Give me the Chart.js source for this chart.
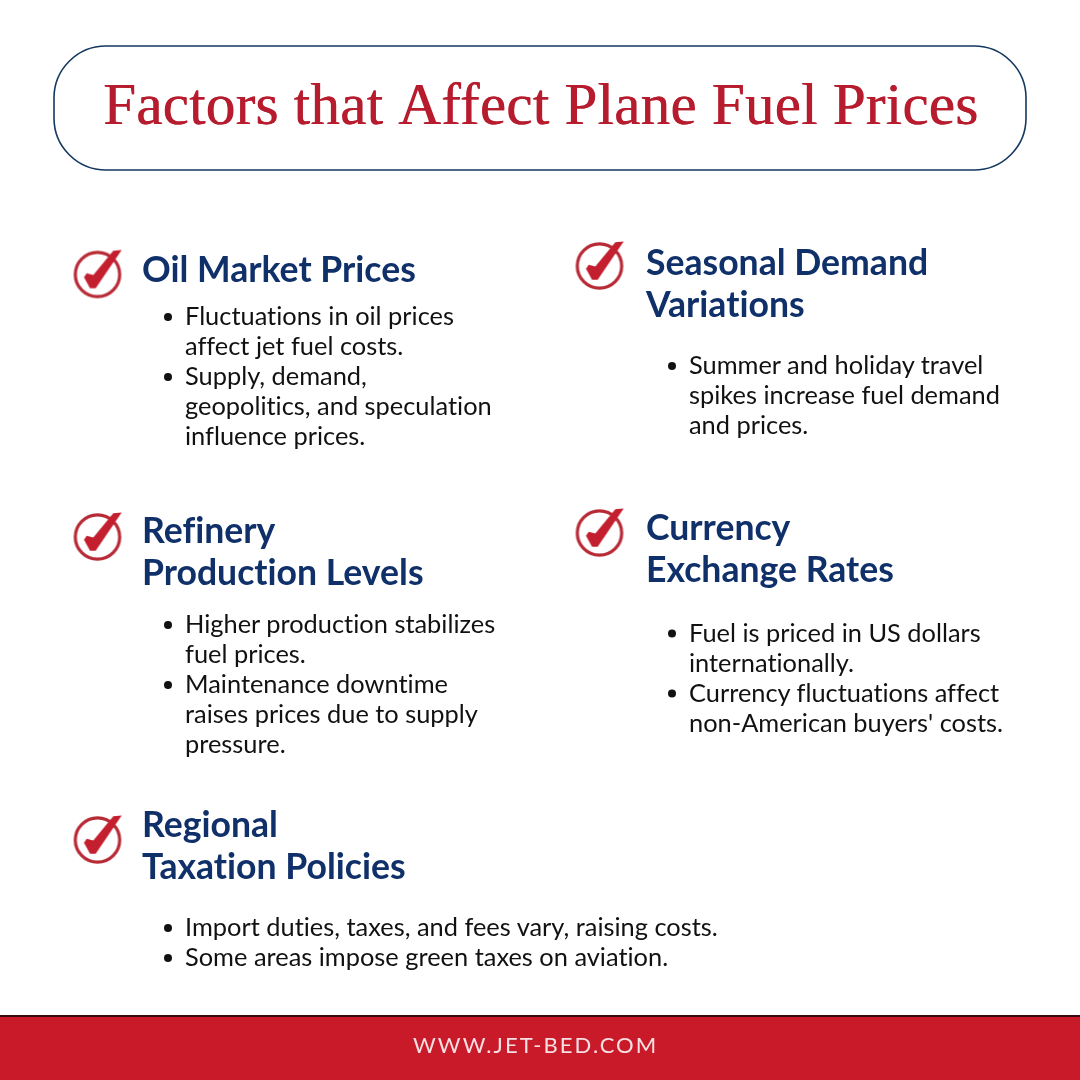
<!DOCTYPE html>
<html><head><meta charset="utf-8">
<style>html,body{margin:0;padding:0;background:#fff}canvas{display:block}</style>
<script src="https://cdn.jsdelivr.net/npm/chart.js@4/dist/chart.umd.min.js"></script>
</head><body><canvas id="c" width="1080" height="1080"></canvas>
<script>
const titleText = "Factors that Affect Plane Fuel Prices";
const footerText = "WWW.JET-BED.COM";
const headings = [
  ["Oil Market Prices"],
  ["Seasonal Demand","Variations"],
  ["Refinery","Production Levels"],
  ["Currency","Exchange Rates"],
  ["Regional","Taxation Policies"]
];
const bullets = [
  [["Fluctuations in oil prices","affect jet fuel costs."],["Supply, demand,","geopolitics, and speculation","influence prices."]],
  [["Summer and holiday travel","spikes increase fuel demand","and prices."]],
  [["Higher production stabilizes","fuel prices."],["Maintenance downtime","raises prices due to supply","pressure."]],
  [["Fuel is priced in US dollars","internationally."],["Currency fluctuations affect","non-American buyers' costs."]],
  [["Import duties, taxes, and fees vary, raising costs."],["Some areas impose green taxes on aviation."]]
];
// layout (pixels of the 1080 page, used through the chart's scales)
const iconX = [97.5,599.5,97.5,599.5,97.5];
const iconY = [274.5,266,537,533,840];
const headX = [142,646,142,646,142];
const headY = [281.5,274.5,542.5,539.5,836.5];
const bulletX = [185,689,185,689,185];
const bulletY = [325,374,633,641.5,936];

function makeIcon(){
  const s=document.createElement('canvas');s.width=64;s.height=64;
  const g=s.getContext('2d');const o=32;
  g.strokeStyle='#b72a36';g.lineWidth=3.2;
  g.beginPath();g.arc(o,o,22.2,0,Math.PI*2);g.stroke();
  g.fillStyle='#c41f2f';
  g.beginPath();
  [[24.2,-24.5],[15.8,-23.8],[-4.2,0.5],[-10.8,-1.2],[-13.5,2.8],[-7.5,13.8],[-1.8,13.8]].forEach((p,i)=>i?g.lineTo(o+p[0],o+p[1]):g.moveTo(o+p[0],o+p[1]));
  g.closePath();g.fill();
  return s;
}
const pagePlugin={id:'page',
  beforeDatasetsDraw(ch){
    const g=ch.ctx,X=v=>ch.scales.x.getPixelForValue(v),Y=v=>ch.scales.y.getPixelForValue(v);
    g.save();
    g.fillStyle='#fff';g.fillRect(0,0,1080,1080);
    g.strokeStyle='#14385f';g.lineWidth=1.6;
    g.beginPath();g.roundRect(X(54),Y(46),972,124,52);g.stroke();
    g.fillStyle='#c91a2a';g.fillRect(X(0),Y(1016),1080,64);
    g.fillStyle='#3a0a12';g.fillRect(X(0),Y(1015),1080,2);
    g.textBaseline='alphabetic';g.textAlign='left';
    g.fillStyle='#b71c2e';g.font='59px "Liberation Serif"';g.letterSpacing='0.26px';
    g.shadowColor='#b71c2e';g.shadowOffsetX=0.6;g.shadowBlur=0;
    g.fillText(titleText,X(103),Y(124));
    g.shadowColor='transparent';g.shadowOffsetX=0;
    g.fillStyle='#f7dfe2';g.font='22px Lato';g.letterSpacing='2.05px';
    g.fillText(footerText,X(413),Y(1053));
    g.letterSpacing='0px';
    g.textRendering='optimizeSpeed';g.fontKerning='normal';
    headings.forEach((lines,i)=>{
      g.fillStyle='#10306a';g.font='bold 35.6px Lato';
      lines.forEach((t,k)=>g.fillText(t,X(headX[i]),Y(headY[i]+k*42)));
      g.font='25.4px Lato';
      let n=0;
      bullets[i].forEach(b=>{
        g.fillStyle='#111';
        g.beginPath();g.arc(X(bulletX[i]-17),Y(bulletY[i]+n*30-8),4,0,Math.PI*2);g.fill();
        b.forEach(t=>{g.fillText(t,X(bulletX[i]),Y(bulletY[i]+n*30));n++;});
      });
    });
    g.restore();
  }
};
new Chart(document.getElementById('c'),{
  type:'scatter',
  data:{datasets:[{data:iconX.map((x,i)=>({x,y:iconY[i]})),pointStyle:makeIcon(),pointRadius:24,showLine:false,clip:false}]},
  options:{responsive:false,animation:false,devicePixelRatio:1,
    layout:{padding:0,autoPadding:false},
    plugins:{legend:{display:false},tooltip:{enabled:false},title:{display:false}},
    scales:{
      x:{type:'linear',min:0,max:1080,display:false},
      y:{type:'linear',min:0,max:1080,reverse:true,display:false}
    }},
  plugins:[pagePlugin]
});
</script></body></html>
